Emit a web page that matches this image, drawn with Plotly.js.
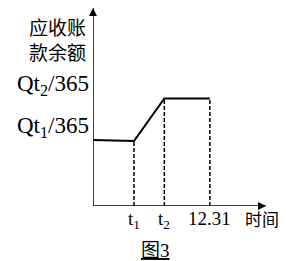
<!DOCTYPE html>
<html><head><meta charset="utf-8">
<script src="https://cdn.plot.ly/plotly-3.0.1.min.js"></script>
<style>html,body{margin:0;padding:0;background:#fff;}#chart{width:286px;height:261px;}</style>
</head><body><div id="chart"></div>
<script>
// Data (relative units: x in time units where t1 = 1, y where Qt1/365 = 1)
const timeLabels = ['t<sub>1</sub>', 't<sub>2</sub>', '12.31'];
const timeValues = [1, 1.74, 2.85];
const lineX = [0, 1, 1.74, 2.85];
const lineY = [1.0, 0.985, 1.63, 1.63];
const levelLabels = ['Qt<sub>1</sub>/365', 'Qt<sub>2</sub>/365'];
const levelValues = [1.0, 1.63];
const yTitleLines = ['应收账', '款余额'];
const xTitle = '时间';
const caption = ['图', '3'];
const xMax = 4.22, yMax = 3.0;

const serif = 'Liberation Serif, Times New Roman, serif';
const cjk = 'Noto Sans CJK SC, sans-serif';

const traces = [];
// axes
traces.push({x: [0, 0], y: [0, yMax], mode: 'lines', line: {color: '#000', width: 1.5}, cliponaxis: false, hoverinfo: 'skip'});
traces.push({x: [0, xMax], y: [0, 0], mode: 'lines', line: {color: '#000', width: 1.5}, cliponaxis: false, hoverinfo: 'skip'});
traces.push({x: [0], y: [yMax], mode: 'markers', marker: {symbol: 'arrow-up', size: 8, color: '#000', line: {width: 0}}, cliponaxis: false, hoverinfo: 'skip'});
traces.push({x: [xMax], y: [0], mode: 'markers', marker: {symbol: 'arrow-right', size: 8, color: '#000', line: {width: 0}}, cliponaxis: false, hoverinfo: 'skip'});
// main curve
traces.push({x: lineX, y: lineY, mode: 'lines', line: {color: '#000', width: 2}, cliponaxis: false, hoverinfo: 'skip'});
// dashed verticals from the curve down to the axis at each time value
timeValues.forEach((tv, i) => {
  const yv = lineY[i + 1];
  traces.push({x: [tv, tv], y: [0, yv], mode: 'lines', line: {color: '#000', width: 1.5, dash: '4px,2px'}, hoverinfo: 'skip', cliponaxis: false});
});

const annotations = [];
// level labels
levelLabels.forEach((t, i) => {
  annotations.push({x: 0, y: levelValues[i], xref: 'x', yref: 'y', text: t, showarrow: false, xanchor: 'right', yanchor: 'bottom', xshift: -2, yshift: -3, font: {family: serif, size: 23, color: '#000'}});
});
// time labels
timeLabels.forEach((t, i) => {
  annotations.push({x: timeValues[i], y: 0, xref: 'x', yref: 'y', text: t, showarrow: false, xanchor: 'center', yanchor: 'top', yshift: 0, font: {family: serif, size: 19, color: '#000'}});
});
annotations.push({x: xMax, y: 0, xref: 'x', yref: 'y', text: xTitle, showarrow: false, xanchor: 'center', yanchor: 'top', xshift: -4, yshift: 2, font: {family: cjk, size: 17, color: '#000'}});
annotations.push({x: 0, y: yMax, xref: 'x', yref: 'y', text: yTitleLines.join('<br>'), showarrow: false, xanchor: 'right', yanchor: 'top', align: 'right', xshift: -5, yshift: -3, font: {family: cjk, size: 19, color: '#000'}});
annotations.push({x: 0, y: 0, xref: 'paper', yref: 'paper', text: '<u>' + caption[0] + '<span style="font-family:Liberation Serif">' + caption[1] + '</span></u>', showarrow: false, xanchor: 'center', yanchor: 'middle', font: {family: cjk, size: 19, color: '#000'}});

const layout = {
  width: 286, height: 261,
  margin: {l: 93, r: 20, t: 8, b: 55},
  paper_bgcolor: '#fff', plot_bgcolor: '#fff',
  showlegend: false,
  xaxis: {range: [0, xMax], visible: false, fixedrange: true},
  yaxis: {range: [0, yMax], visible: false, fixedrange: true},
  annotations: annotations
};
// caption placed in pixel-based paper coords
const plotW = 286 - 93 - 20, plotH = 261 - 8 - 55;
const cap = annotations[annotations.length - 1];
cap.x = (155 - 93) / plotW; cap.y = (206 - 248) / plotH;

Plotly.newPlot('chart', traces, layout, {staticPlot: true, displayModeBar: false});
</script></body></html>
